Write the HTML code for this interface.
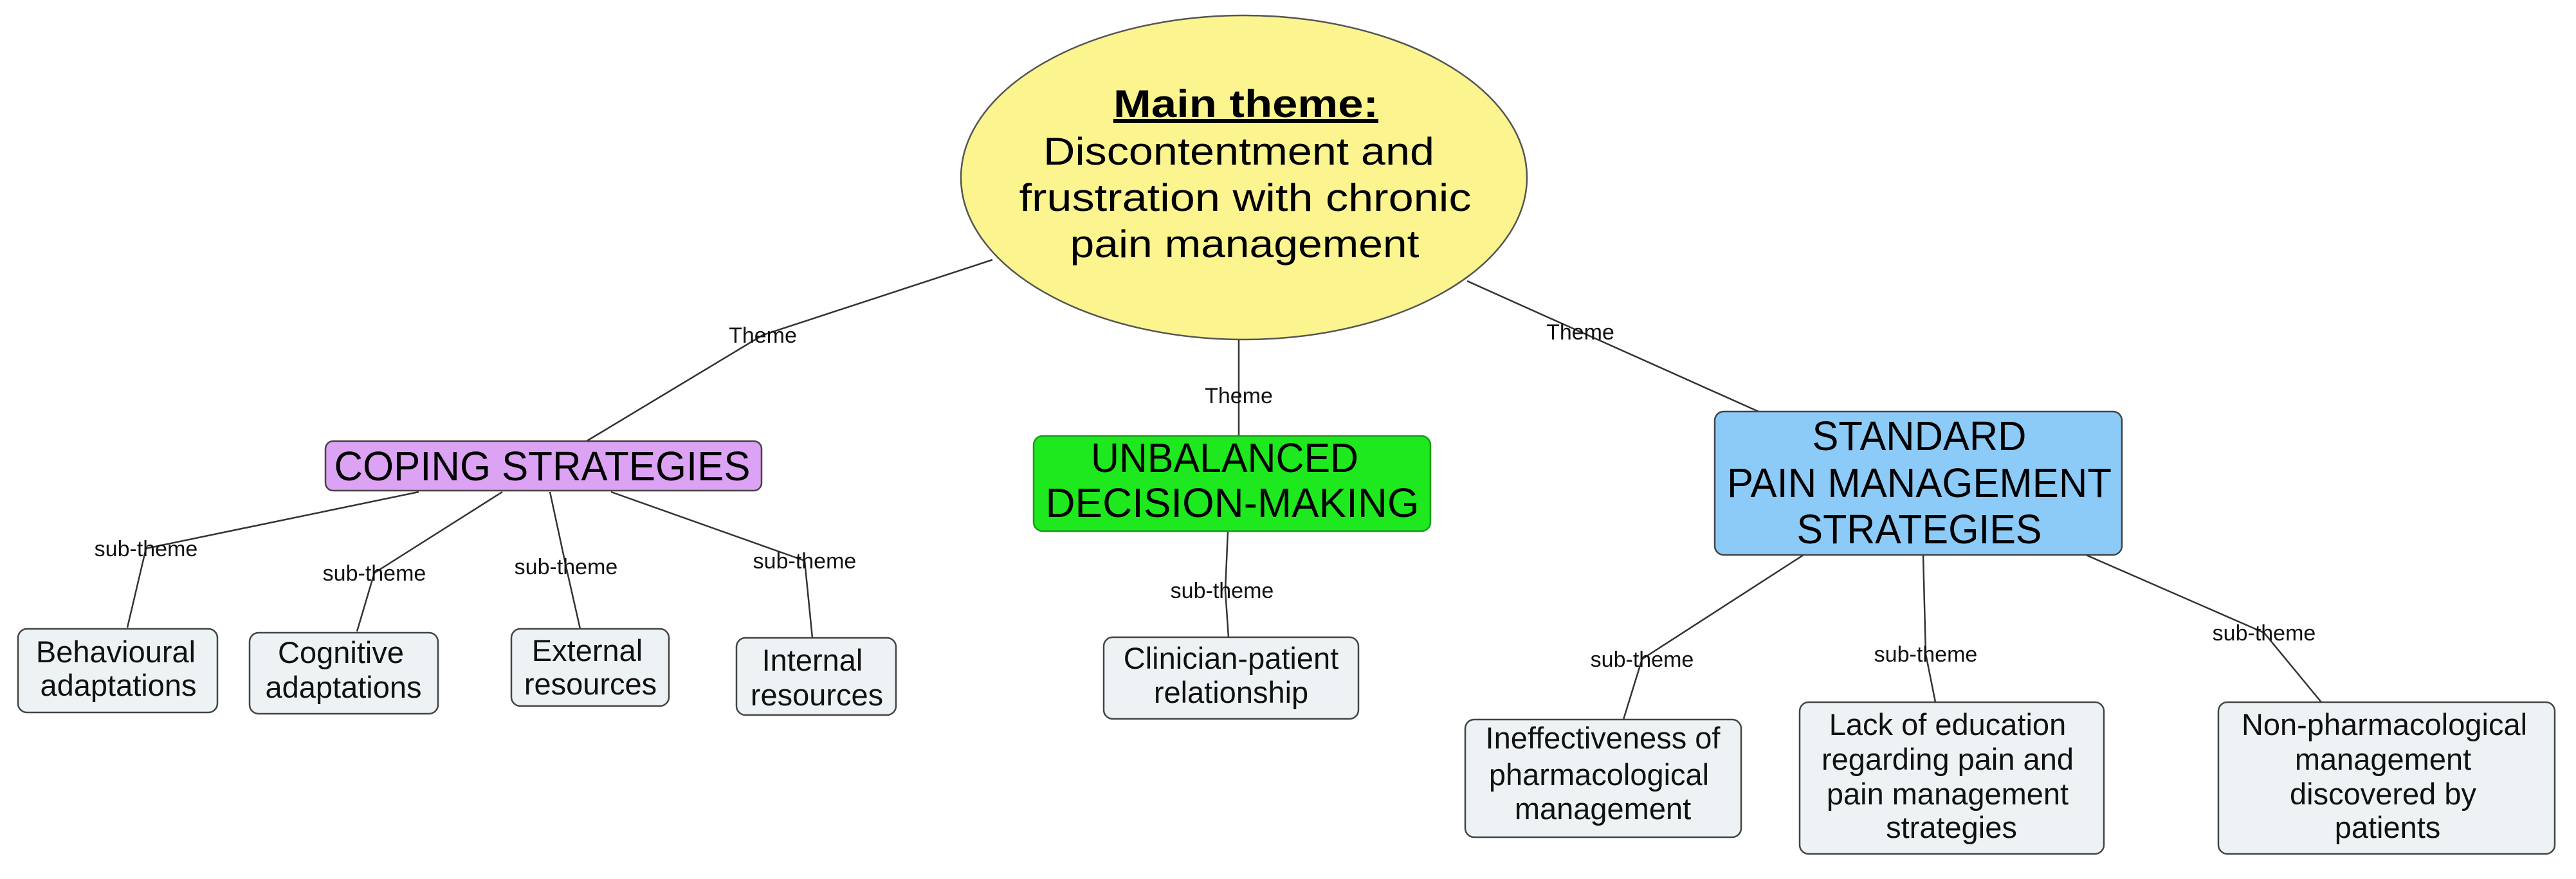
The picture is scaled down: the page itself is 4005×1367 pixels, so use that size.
<!DOCTYPE html>
<html><head><meta charset="utf-8"><style>
html,body{margin:0;padding:0;background:#fff;}
svg{display:block;}
</style></head><body>
<svg width="4005" height="1367" viewBox="0 0 4005 1367" xmlns="http://www.w3.org/2000/svg" font-family="Liberation Sans, DejaVu Sans, sans-serif">
<rect width="4005" height="1367" fill="#fff"/>
<g stroke="#333" stroke-width="2.5" fill="none">
<polyline points="1543,404 1186,521 912,686"/>
<polyline points="1926,528 1926,615 1926,678"/>
<polyline points="2281,437 2457,516 2734,640"/>
<polyline points="651,765 227,853 198,976"/>
<polyline points="781,765 582,891 555,982"/>
<polyline points="855,765 880,881 902,978"/>
<polyline points="950,765 1251,872 1263,992"/>
<polyline points="1909,826 1905,918 1910,991"/>
<polyline points="2804,863 2553,1025 2524,1119"/>
<polyline points="2990,863 2994,1017 3009,1092"/>
<polyline points="3243,863 3520,984 3609,1092"/>
</g>
<ellipse cx="1934" cy="276" rx="440" ry="252" fill="#fbf48f" stroke="#555" stroke-width="2.5"/>
<g fill="#000" text-anchor="middle" font-size="60">
<text x="1937" y="182" font-weight="bold" text-decoration="underline" textLength="412" lengthAdjust="spacingAndGlyphs">Main theme:</text>
<text x="1926" y="256" textLength="608" lengthAdjust="spacingAndGlyphs">Discontentment and</text>
<text x="1936" y="328" textLength="703" lengthAdjust="spacingAndGlyphs">frustration with chronic</text>
<text x="1935" y="400" textLength="543" lengthAdjust="spacingAndGlyphs">pain management</text>
</g>
<rect x="506" y="686" width="678" height="77" rx="12" fill="#dca2f3" stroke="#444" stroke-width="2.5"/>
<text x="843" y="747" font-size="64" text-anchor="middle" textLength="647" lengthAdjust="spacingAndGlyphs">COPING STRATEGIES</text>
<rect x="1607" y="678" width="617" height="148" rx="14" fill="#1ee81e" stroke="#1a9a1a" stroke-width="2.5"/>
<text x="1904" y="734" font-size="64" text-anchor="middle" textLength="416" lengthAdjust="spacingAndGlyphs">UNBALANCED</text>
<text x="1916" y="804" font-size="64" text-anchor="middle" textLength="581" lengthAdjust="spacingAndGlyphs">DECISION-MAKING</text>
<rect x="2666" y="640" width="633" height="223" rx="14" fill="#8ccbf7" stroke="#444" stroke-width="2.5"/>
<text x="2984" y="700" font-size="64" text-anchor="middle" textLength="333" lengthAdjust="spacingAndGlyphs">STANDARD</text>
<text x="2984" y="773" font-size="64" text-anchor="middle" textLength="598" lengthAdjust="spacingAndGlyphs">PAIN MANAGEMENT</text>
<text x="2984" y="845" font-size="64" text-anchor="middle" textLength="381" lengthAdjust="spacingAndGlyphs">STRATEGIES</text>
<g fill="#edf3f4" stroke="#444" stroke-width="2.5">
<rect x="28" y="978" width="310" height="130" rx="14"/>
<rect x="388" y="984" width="293" height="126" rx="14"/>
<rect x="795" y="978" width="245" height="120" rx="14"/>
<rect x="1145" y="992" width="248" height="120" rx="14"/>
<rect x="1716" y="991" width="396" height="127" rx="14"/>
<rect x="2278" y="1119" width="429" height="183" rx="14"/>
<rect x="2798" y="1092" width="473" height="236" rx="14"/>
<rect x="3449" y="1092" width="523" height="236" rx="14"/>
</g>
<g fill="#111" font-size="47" text-anchor="middle">
<text x="180" y="1030">Behavioural</text>
<text x="184" y="1082">adaptations</text>
<text x="530" y="1031">Cognitive</text>
<text x="534" y="1085">adaptations</text>
<text x="913" y="1028">External</text>
<text x="918" y="1080">resources</text>
<text x="1263" y="1043">Internal</text>
<text x="1270" y="1097">resources</text>
<text x="1914" y="1040">Clinician-patient</text>
<text x="1914" y="1093">relationship</text>
<text x="2492" y="1164">Ineffectiveness of</text>
<text x="2486" y="1221">pharmacological</text>
<text x="2492" y="1274">management</text>
<text x="3028" y="1143">Lack of education</text>
<text x="3028" y="1197">regarding pain and</text>
<text x="3028" y="1251">pain management</text>
<text x="3034" y="1303">strategies</text>
<text x="3707" y="1143">Non-pharmacological</text>
<text x="3705" y="1197">management</text>
<text x="3705" y="1251">discovered by</text>
<text x="3712" y="1303">patients</text>
</g>
<g fill="#111" font-size="34" text-anchor="middle">
<text x="1186" y="533">Theme</text>
<text x="1926" y="627">Theme</text>
<text x="2457" y="528">Theme</text>
<text x="227" y="865">sub-theme</text>
<text x="582" y="903">sub-theme</text>
<text x="880" y="893">sub-theme</text>
<text x="1251" y="884">sub-theme</text>
<text x="1900" y="930">sub-theme</text>
<text x="2553" y="1037">sub-theme</text>
<text x="2994" y="1029">sub-theme</text>
<text x="3520" y="996">sub-theme</text>
</g>
</svg>
</body></html>
